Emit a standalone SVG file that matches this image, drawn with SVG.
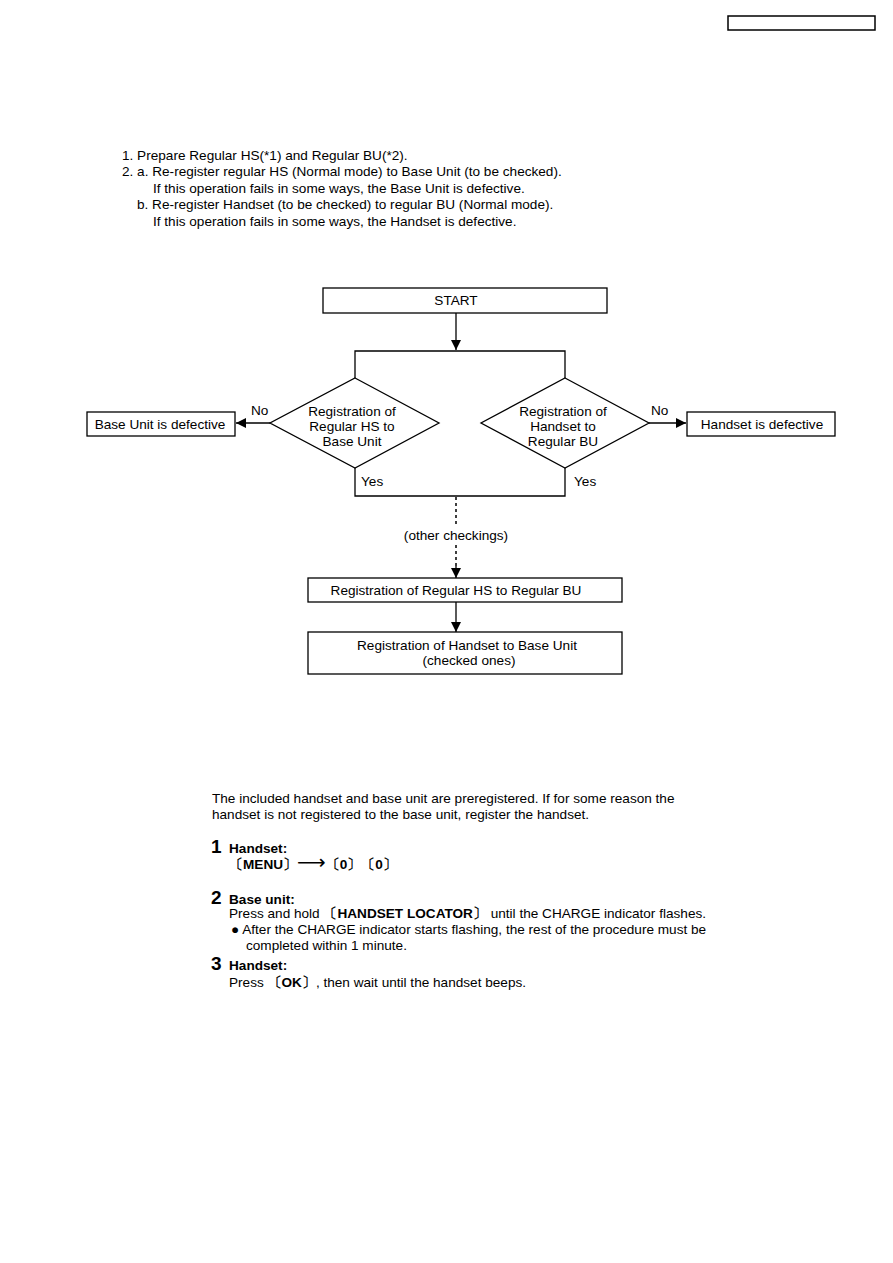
<svg xmlns="http://www.w3.org/2000/svg" width="893" height="1263" viewBox="0 0 893 1263">
<style>
text{font-family:"Liberation Sans",Arial,sans-serif;font-size:13.6px;fill:#000}
.c{text-anchor:middle}
.box{fill:#fff;stroke:#000;stroke-width:1.3}
.ln{fill:none;stroke:#000;stroke-width:1.3}
.dot{fill:none;stroke:#000;stroke-width:1.5;stroke-dasharray:3,3}
.b{font-weight:bold}
.n{font-weight:normal}
.big{font-weight:bold;font-size:19px}
</style>
<defs>
<marker id="ah" markerWidth="10" markerHeight="10" refX="10" refY="5" orient="auto" markerUnits="userSpaceOnUse">
<path d="M0,0 L10,5 L0,10 Z" fill="#000"/>
</marker>
</defs>
<rect x="728" y="16" width="147" height="14" fill="#fff" stroke="#000" stroke-width="1.5"/>
<g id="intro">
<text x="122" y="160">1. Prepare Regular HS(*1) and Regular BU(*2).</text>
<text x="122" y="176">2. a. Re-register regular HS (Normal mode) to Base Unit (to be checked).</text>
<text x="153" y="193">If this operation fails in some ways, the Base Unit is defective.</text>
<text x="137" y="209">b. Re-register Handset (to be checked) to regular BU (Normal mode).</text>
<text x="153" y="226">If this operation fails in some ways, the Handset is defective.</text>
</g>
<g id="connectors">
<line class="ln" x1="456" y1="313" x2="456" y2="350" marker-end="url(#ah)"/>
<polyline class="ln" points="355,378 355,351 565,351 565,378"/>
<line class="ln" x1="270" y1="423" x2="236" y2="423" marker-end="url(#ah)"/>
<line class="ln" x1="649" y1="423" x2="686" y2="423" marker-end="url(#ah)"/>
<polyline class="ln" points="355,468 355,496 565,496 565,468"/>
<line class="dot" x1="456" y1="497" x2="456" y2="526"/>
<line class="dot" x1="456" y1="545" x2="456" y2="568"/>
<line class="ln" x1="456" y1="566" x2="456" y2="578" marker-end="url(#ah)"/>
<line class="ln" x1="456" y1="602" x2="456" y2="632" marker-end="url(#ah)"/>
<text x="251" y="415">No</text>
<text x="651" y="415">No</text>
<text x="361" y="486">Yes</text>
<text x="574" y="486">Yes</text>
<text class="c" x="456" y="540">(other checkings)</text>
</g>
<g id="start">
<rect class="box" x="323" y="288" width="284" height="25"/>
<text class="c" x="456" y="305">START</text>
</g>
<g id="dec1">
<polygon class="box" points="355,378 439,423 355,468 270,423"/>
<text class="c" x="352" y="416">Registration of</text>
<text class="c" x="352" y="431">Regular HS to</text>
<text class="c" x="352" y="446">Base Unit</text>
</g>
<g id="dec2">
<polygon class="box" points="565,378 649,423 565,468 481,423"/>
<text class="c" x="563" y="416">Registration of</text>
<text class="c" x="563" y="431">Handset to</text>
<text class="c" x="563" y="446">Regular BU</text>
</g>
<g id="bu-def">
<rect class="box" x="87" y="412" width="148" height="24"/>
<text class="c" x="160" y="429">Base Unit is defective</text>
</g>
<g id="hs-def">
<rect class="box" x="687" y="412" width="148" height="24"/>
<text class="c" x="762" y="429">Handset is defective</text>
</g>
<g id="reg1">
<rect class="box" x="308" y="578" width="314" height="24"/>
<text class="c" x="456" y="595">Registration of Regular HS to Regular BU</text>
</g>
<g id="reg2">
<rect class="box" x="308" y="632" width="314" height="42"/>
<text class="c" x="467" y="650">Registration of Handset to Base Unit</text>
<text class="c" x="469" y="665">(checked ones)</text>
</g>
<g id="procedure">
<text x="212" y="803">The included handset and base unit are preregistered. If for some reason the</text>
<text x="212" y="819">handset is not registered to the base unit, register the handset.</text>
<text class="big" x="211" y="853">1</text>
<text class="b" x="229" y="853">Handset:</text>
<text class="b" x="229" y="869">〔MENU〕<tspan class="n" font-family="DejaVu Sans" font-size="20">⟶</tspan>〔0〕〔0〕</text>
<text class="big" x="211" y="904">2</text>
<text class="b" x="229" y="904">Base unit:</text>
<text x="229" y="918">Press and hold <tspan class="b">〔HANDSET LOCATOR〕</tspan> until the CHARGE indicator flashes.</text>
<text x="231" y="934">● After the CHARGE indicator starts flashing, the rest of the procedure must be</text>
<text x="246" y="950">completed within 1 minute.</text>
<text class="big" x="211" y="970">3</text>
<text class="b" x="229" y="970">Handset:</text>
<text x="229" y="987">Press <tspan class="b">〔OK〕</tspan>, then wait until the handset beeps.</text>
</g>
</svg>
